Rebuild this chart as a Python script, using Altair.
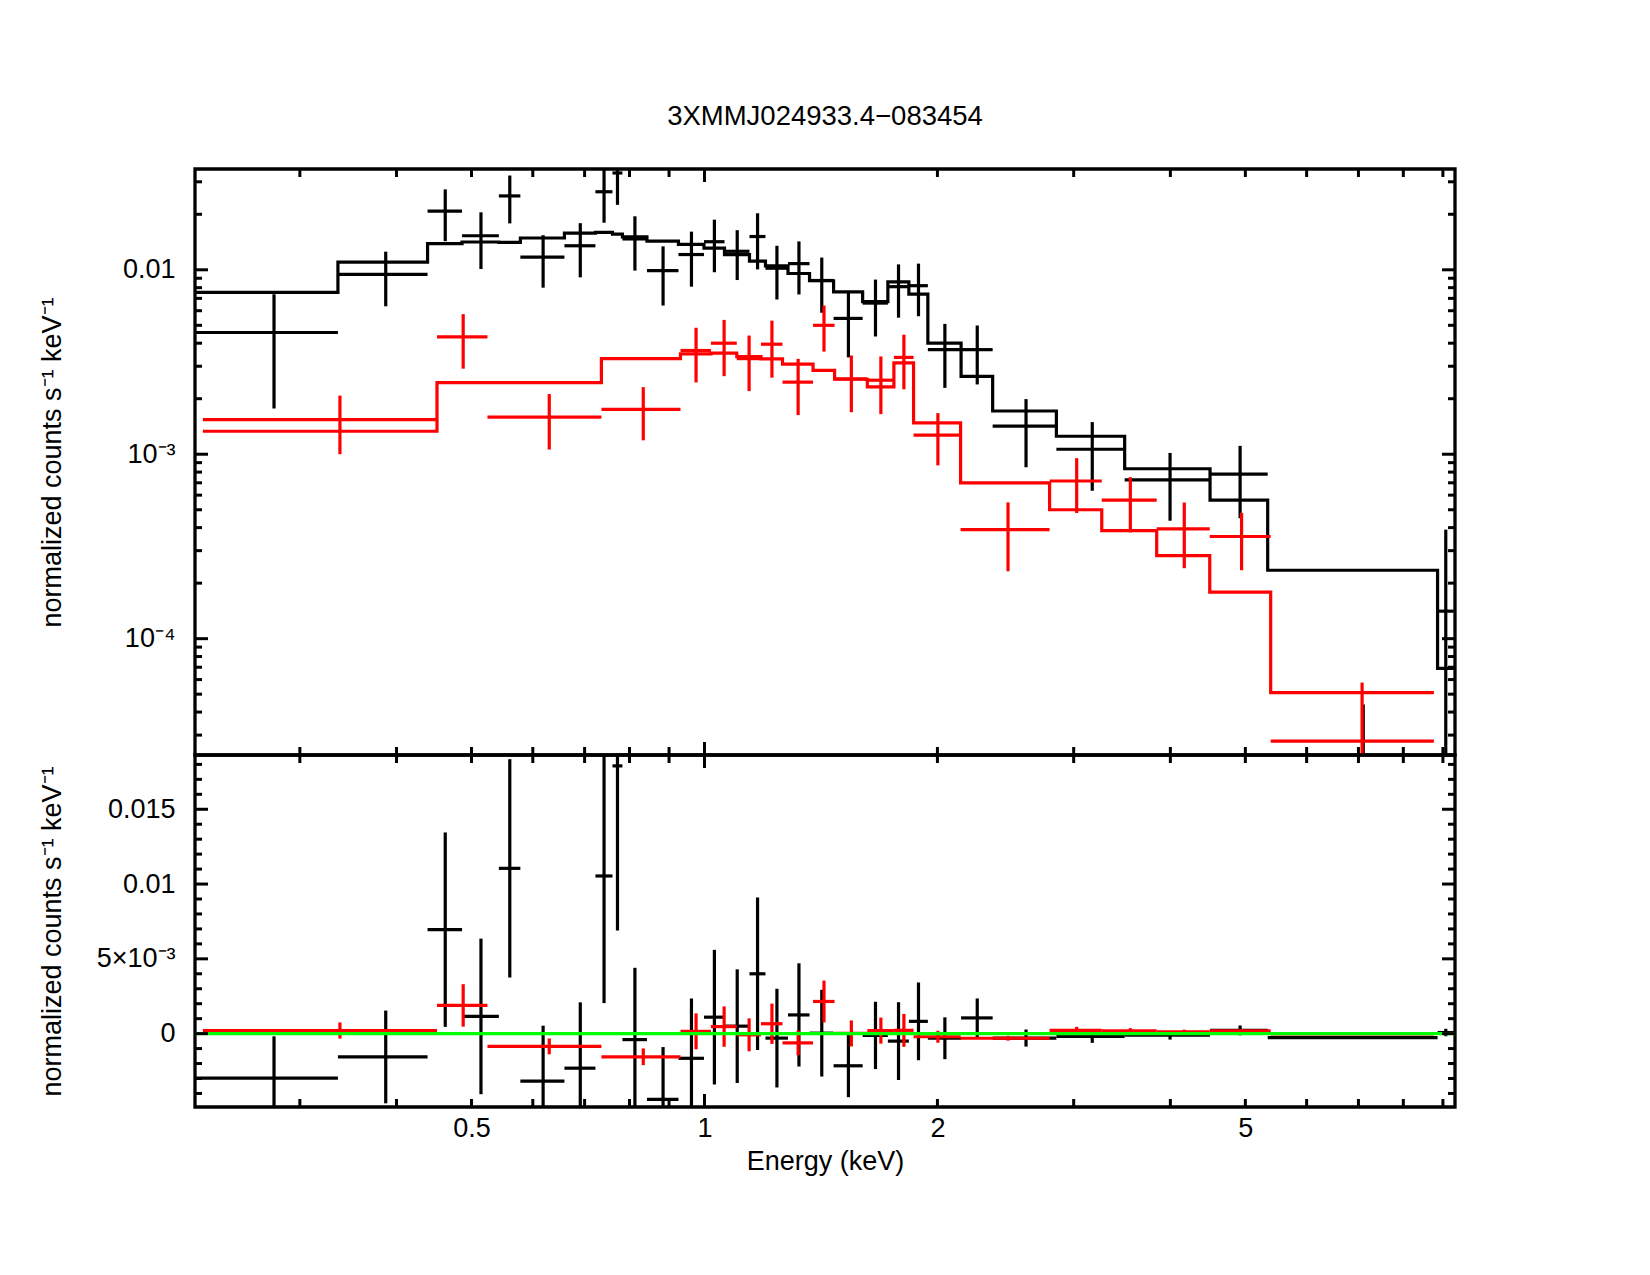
import altair as alt
import pandas as pd

FONT = "Liberation Sans"
FS = 27
W, H_TOP, H_BOT = 1260, 586, 352
X_DOMAIN = [0.2196, 9.33]
Y_TOP_DOMAIN = [2.34e-5, 0.0352]
Y_BOT_DOMAIN = [-0.004906, 0.018628]

# Black spectrum: bin edges (keV), rate, 1-sigma error, folded model
black_edges = [0.2196, 0.3360, 0.4387, 0.4861, 0.5424, 0.5782, 0.6592, 0.7229, 0.7605, 0.7834,
               0.8427, 0.9255, 0.9985, 1.0614, 1.1433, 1.1990, 1.2822, 1.3670, 1.4684, 1.6010,
               1.7258, 1.8370, 1.9439, 2.1459, 2.3573, 2.8495, 3.4914, 4.5012, 5.3434, 8.8585,
               9.2961]
black_rate = [4.57e-3, 9.44e-3, 2.08e-2, 1.53e-2, 2.515e-2, 1.17e-2, 1.35e-2, 2.65e-2, 3.35e-2, 1.47e-2,
              9.9e-3, 1.21e-2, 1.42e-2, 1.26e-2, 1.515e-2, 1.02e-2, 1.08e-2, 8.75e-3, 5.45e-3, 6.6e-3,
              8.1e-3, 8.2e-3, 3.69e-3, 3.69e-3, 1.42e-3, 1.064e-3, 7.26e-4, 7.80e-4, -3.3e-5, 1.41e-4]
black_err = [2.8e-3, 3.1e-3, 6.5e-3, 5.2e-3, 7.3e-3, 3.7e-3, 4.4e-3, 8.5e-3, 1.1e-2, 4.8e-3,
             3.5e-3, 4.0e-3, 4.5e-3, 3.8e-3, 5.1e-3, 3.3e-3, 3.45e-3, 2.9e-3, 2.1e-3, 2.25e-3,
             2.6e-3, 2.6e-3, 1.4e-3, 1.3e-3, 5.7e-4, 4.3e-4, 2.9e-4, 3.3e-4, 7.7e-5, 2.49e-4]
black_model = [7.55e-3, 1.10e-2, 1.385e-2, 1.415e-2, 1.41e-2, 1.487e-2, 1.581e-2, 1.596e-2, 1.56e-2, 1.51e-2,
               1.43e-2, 1.375e-2, 1.31e-2, 1.21e-2, 1.115e-2, 1.05e-2, 9.55e-3, 8.72e-3, 7.6e-3, 6.72e-3,
               8.6e-3, 7.38e-3, 4.0e-3, 2.64e-3, 1.716e-3, 1.252e-3, 8.34e-4, 5.64e-4, 2.35e-4, 6.9e-5]

# Red spectrum
red_edges = [0.2248, 0.4512, 0.5243, 0.7359, 0.9311, 1.0195, 1.1009, 1.1832, 1.2614, 1.3814,
             1.4728, 1.6235, 1.7571, 1.8630, 2.1427, 2.7925, 3.2613, 3.8405, 4.4973, 5.3913,
             8.7619]
red_rate = [1.54e-3, 4.33e-3, 1.59e-3, 1.75e-3, 3.65e-3, 4.0e-3, 3.30e-3, 3.95e-3, 2.46e-3, 5.0e-3,
            2.56e-3, 2.52e-3, 3.35e-3, 1.27e-3, 3.9e-4, 7.16e-4, 5.64e-4, 3.94e-4, 3.58e-4, 2.78e-5]
red_err = [5.4e-4, 1.42e-3, 5.3e-4, 5.6e-4, 1.2e-3, 1.35e-3, 1.1e-3, 1.35e-3, 8.3e-4, 1.4e-3,
           8.7e-4, 8.7e-4, 1.1e-3, 4.0e-4, 1.58e-4, 2.36e-4, 1.87e-4, 1.53e-4, 1.23e-4, 3.0e-5]
red_model = [1.332e-3, 2.444e-3, 2.444e-3, 3.30e-3, 3.50e-3, 3.53e-3, 3.38e-3, 3.29e-3, 3.08e-3, 2.85e-3,
             2.55e-3, 2.32e-3, 3.13e-3, 1.48e-3, 6.99e-4, 5.0e-4, 3.85e-4, 2.82e-4, 1.79e-4, 5.10e-5]

# Axis tick positions
x_major = [1.0]
x_minor = [m * 10.0 ** e for e in (-1, 0) for m in range(2, 10)]
x_minor = [v for v in x_minor if X_DOMAIN[0] <= v <= X_DOMAIN[1]]
ytop_major = [1e-4, 1e-3, 1e-2]
ytop_minor = [m * 10.0 ** e for e in (-5, -4, -3, -2) for m in range(2, 10)]
ytop_minor = [v for v in ytop_minor if Y_TOP_DOMAIN[0] <= v <= Y_TOP_DOMAIN[1]]
ybot_major = [0.0, 0.005, 0.01, 0.015]
ybot_minor = [i * 0.001 for i in range(-4, 19) if i % 5 != 0]

xs = alt.Scale(type="log", domain=X_DOMAIN, nice=False)
yst = alt.Scale(type="log", domain=Y_TOP_DOMAIN, nice=False)
ysb = alt.Scale(type="linear", domain=Y_BOT_DOMAIN, nice=False, zero=False)

LW = 3.2
AX = dict(ticks=False, domain=False, grid=False, labelFont=FONT, labelFontSize=FS,
          labelColor="black", titleFont=FONT, titleFontSize=FS, titleFontWeight="normal",
          titleColor="black", labelFlush=False, labelOverlap=False)
YLABEL = "normalized counts s\u207b\u00b9 keV\u207b\u00b9"


def frames(edges, rate, err, model):
    pts = pd.DataFrame({"lo": edges[:-1], "hi": edges[1:], "rate": rate, "err": err, "model": model})
    pts["c"] = (pts["lo"] + pts["hi"]) / 2
    pts["up"] = pts["rate"] + pts["err"]
    pts["dn"] = (pts["rate"] - pts["err"]).clip(lower=Y_TOP_DOMAIN[0])
    pts["res"] = pts["rate"] - pts["model"]
    pts["res_up"] = pts["res"] + pts["err"]
    pts["res_dn"] = pts["res"] - pts["err"]
    step = pd.DataFrame({
        "E": [v for a, b in zip(edges[:-1], edges[1:]) for v in (a, b)],
        "m": [m for m in model for _ in (0, 1)],
        "k": list(range(2 * len(model))),
    })
    return pts, step


def yaxis(values, expr, height):
    return alt.Axis(values=values, labelExpr=expr, labelPadding=20, titleX=-143,
                    titleY=height / 2, titleAngle=270, titleAlign="center",
                    titleBaseline="middle", **AX)


def frame_ticks(yscale, y_major, y_minor, height):
    layers = []
    for vals, L in ((x_major, 13), (x_minor, 8)):
        base = alt.Chart(pd.DataFrame({"t": vals})).mark_rule(color="black", strokeWidth=3)
        xe = alt.X("t:Q", scale=xs, axis=None)
        layers.append(base.encode(x=xe, y=alt.value(0), y2=alt.value(L)))
        layers.append(base.encode(x=xe, y=alt.value(height), y2=alt.value(height - L)))
    for vals, L in ((y_major, 13), (y_minor, 7)):
        base = alt.Chart(pd.DataFrame({"t": vals})).mark_rule(color="black", strokeWidth=3)
        ye = alt.Y("t:Q", scale=yscale, axis=None)
        layers.append(base.encode(y=ye, x=alt.value(0), x2=alt.value(L)))
        layers.append(base.encode(y=ye, x=alt.value(W), x2=alt.value(W - L)))
    return layers


top_layers = []
bot_layers = []
for i, (edges, rate, err, model, color) in enumerate((
        (black_edges, black_rate, black_err, black_model, "black"),
        (red_edges, red_rate, red_err, red_model, "#ff0000"))):
    pts, step = frames(edges, rate, err, model)
    first = i == 0

    # upper panel: folded model histogram plus data crosses
    top_layers.append(
        alt.Chart(step).mark_line(color=color, strokeWidth=LW, clip=True).encode(
            x=alt.X("E:Q", scale=xs, axis=None),
            y=alt.Y("m:Q", scale=yst, axis=None),
            order="k:Q"))
    top_layers.append(
        alt.Chart(pts[pts["rate"] > Y_TOP_DOMAIN[0]]).mark_rule(color=color, strokeWidth=LW, clip=True).encode(
            x=alt.X("lo:Q", scale=xs, axis=None), x2="hi:Q",
            y=alt.Y("rate:Q", scale=yst, axis=None)))
    top_layers.append(
        alt.Chart(pts).mark_rule(color=color, strokeWidth=LW, clip=True).encode(
            x=alt.X("c:Q", scale=xs, axis=None),
            y=alt.Y("dn:Q", scale=yst, title=YLABEL,
                    axis=yaxis(ytop_major,
                               "datum.value > 0.005 ? '0.01' : (datum.value > 0.0005 ? '10\u207b\u00b3' : '10\u207b\u2074')",
                               H_TOP) if first else None),
            y2="up:Q"))

    # lower panel: residuals (data - model)
    bot_layers.append(
        alt.Chart(pts).mark_rule(color=color, strokeWidth=LW, clip=True).encode(
            x=alt.X("lo:Q", scale=xs, title="Energy (keV)",
                    axis=alt.Axis(values=[0.5, 1, 2, 5], format="~g", labelPadding=8,
                                  titlePadding=7, **AX) if first else None),
            x2="hi:Q",
            y=alt.Y("res:Q", scale=ysb, axis=None)))
    bot_layers.append(
        alt.Chart(pts).mark_rule(color=color, strokeWidth=LW, clip=True).encode(
            x=alt.X("c:Q", scale=xs, axis=None),
            y=alt.Y("res_dn:Q", scale=ysb, title=YLABEL,
                    axis=yaxis(ybot_major,
                               "datum.value == 0 ? '0' : (datum.value < 0.007 ? '5\u00d710\u207b\u00b3' : (datum.value < 0.012 ? '0.01' : '0.015'))",
                               H_BOT) if first else None),
            y2="res_up:Q"))

zero_line = alt.Chart(pd.DataFrame({"r": [0.0]})).mark_rule(color="#00ff00", strokeWidth=LW).encode(
    y=alt.Y("r:Q", scale=ysb, axis=None), x=alt.value(0), x2=alt.value(W))
bot_layers.append(zero_line)

top = alt.layer(*(top_layers + frame_ticks(yst, ytop_major, ytop_minor, H_TOP))).properties(
    width=W, height=H_TOP).resolve_axis(x="independent", y="independent")
bottom = alt.layer(*(bot_layers + frame_ticks(ysb, ybot_major, ybot_minor, H_BOT))).properties(
    width=W, height=H_BOT).resolve_axis(x="independent", y="independent")

chart = alt.vconcat(top, bottom, spacing=0, bounds="flush").properties(
    title=alt.TitleParams(text="3XMMJ024933.4\u2212083454", font=FONT, fontSize=27.5,
                          fontWeight="normal", color="black", anchor="middle",
                          frame="group", offset=35),
    padding={"left": 36, "top": 103, "right": 150, "bottom": 100},
    background="white",
).configure_view(stroke="black", strokeWidth=3.3)

chart.save("out.html", embed_options={"renderer": "svg", "actions": False})
